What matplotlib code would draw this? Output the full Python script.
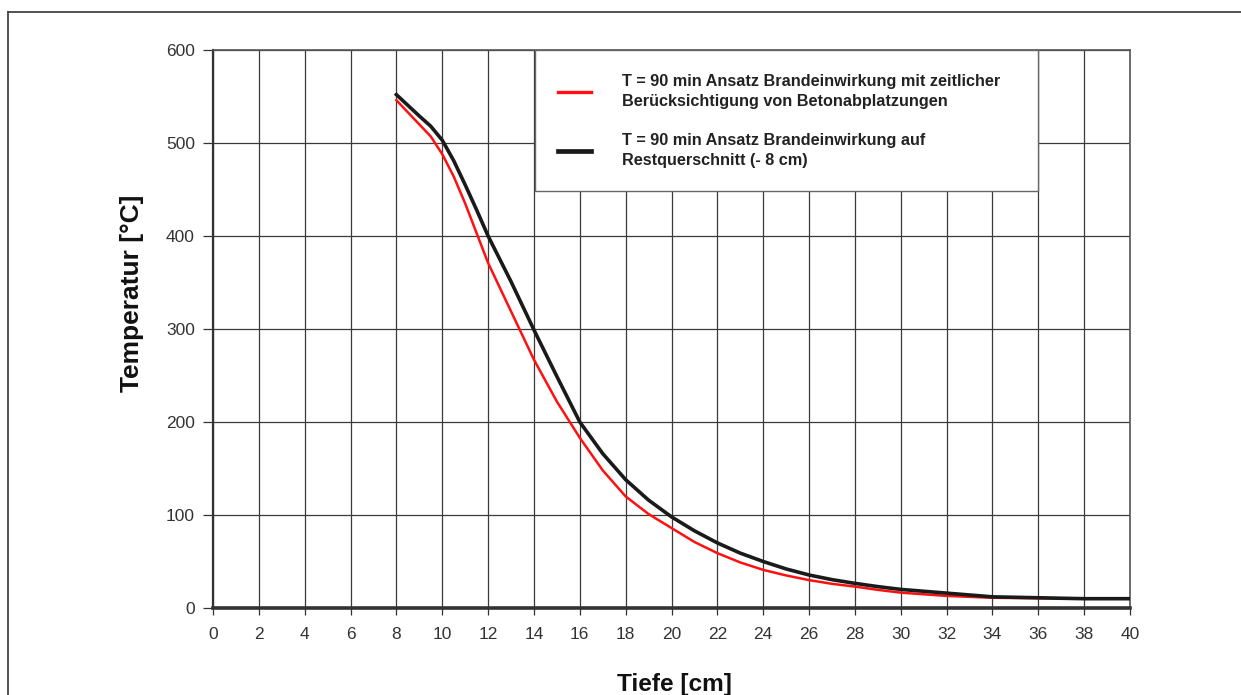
import matplotlib
matplotlib.use("Agg")
import matplotlib.pyplot as plt
from matplotlib.lines import Line2D

plt.rcParams['font.family'] = ['Liberation Sans', 'DejaVu Sans']

# depth [cm] and temperatures [°C]
depth = [8, 9, 9.5, 10, 10.5, 11, 11.5, 12, 13, 14, 15, 16, 17, 18, 19, 20,
         21, 22, 23, 24, 25, 26, 27, 28, 29, 30, 32, 34, 36, 38, 40]
temp_black = [552, 529, 518, 503, 481, 455, 428, 400, 351, 299, 249, 200, 166, 138, 116, 98,
              83, 70, 59, 50, 42, 35.5, 30.5, 26.5, 23, 20, 16, 12, 11, 10, 10]
temp_red = [546, 520, 507, 488, 464, 435, 403, 371, 319, 267, 222, 183, 148, 120, 101, 86,
            71, 59, 49, 41, 35, 30, 26, 23, 19.5, 16.5, 13, 11, 10.5, 10, 10]

label_red = "T = 90 min Ansatz Brandeinwirkung mit zeitlicher\nBerücksichtigung von Betonabplatzungen"
label_black = "T = 90 min Ansatz Brandeinwirkung auf\nRestquerschnitt (- 8 cm)"

fig = plt.figure(figsize=(12.41, 6.95), dpi=100)
ax = fig.add_axes([213/1241, 1-608/695, (1130-213)/1241, (608-50)/695])

ax.plot(depth, temp_red, color="#ff1010", lw=1.8, zorder=3)
ax.plot(depth, temp_black, color="#1a1a1a", lw=2.6, zorder=4)

ax.set_xlim(0, 40)
ax.set_ylim(0, 600)
ax.set_xticks(range(0, 41, 2))
ax.set_yticks(range(0, 601, 100))
ax.grid(True, color="#3a3a3a", lw=0.9)
ax.set_axisbelow(True)
ax.tick_params(axis='both', labelsize=12.5, colors="#333333", width=0.9)
ax.tick_params(axis='y', length=7, pad=6)
ax.tick_params(axis='x', length=5, pad=9)

for s in ['top', 'right']:
    ax.spines[s].set_color("#555555")
    ax.spines[s].set_linewidth(1.2)
ax.spines['left'].set_color("#333333")
ax.spines['left'].set_linewidth(1.6)
ax.spines['bottom'].set_color("#333333")
ax.spines['bottom'].set_linewidth(2.6)

ax.set_ylabel("Temperatur [°C]", fontsize=19, fontweight='bold', color="#111111")
ax.set_xlabel("Tiefe [cm]", fontsize=17.6, fontweight='bold', color="#111111")
ax.xaxis.set_label_coords(0.503, -0.116)
ax.yaxis.set_label_coords(-0.075, 0.564)

handles = [Line2D([], [], color="#ff1010", lw=2.4), Line2D([], [], color="#1a1a1a", lw=3.4)]
leg = ax.legend(handles, [label_red, label_black], loc='upper left',
                bbox_to_anchor=(0.351, 0.751, 0.549, 0.249), mode='expand',
                borderaxespad=0, frameon=True, fancybox=False, framealpha=1,
                edgecolor="#666666", prop={'weight': 'bold', 'size': 11.7},
                handlelength=2.0, handletextpad=1.9, borderpad=1.45, labelspacing=1.45)
leg.get_frame().set_linewidth(1.0)
for t in leg.get_texts():
    t.set_color("#222222")
    t.set_linespacing(1.45)
leg.set_zorder(10)

# outer frame around the figure
fig.add_artist(Line2D([8/1241, 8/1241], [0, 1-12/695], color="#444444", lw=1.3))
fig.add_artist(Line2D([8/1241, 1], [1-12/695, 1-12/695], color="#444444", lw=1.3))

fig.savefig("out.png", dpi=100, facecolor="white")
